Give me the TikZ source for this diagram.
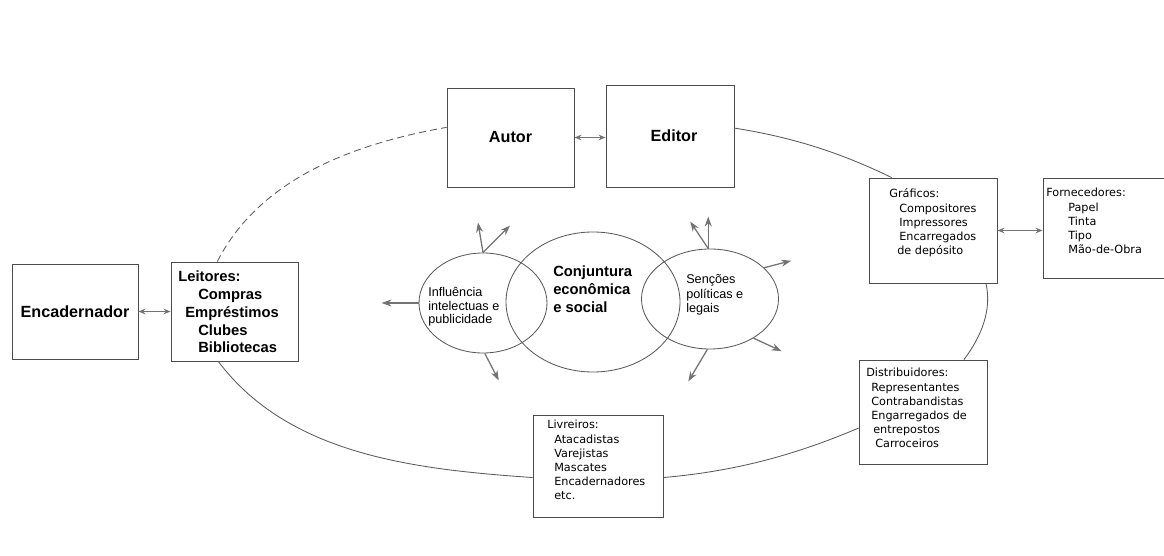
\documentclass[tikz,border=0pt]{standalone}
\usepackage{fontspec}
\setmainfont{Liberation Sans}
\newfontfamily\listfont{DejaVu Sans}
\usetikzlibrary{arrows.meta}
\usetikzlibrary{shapes.geometric}

\definecolor{boxgray}{gray}{0.3}
\definecolor{ringgray}{gray}{0.35}
\definecolor{arrgray}{gray}{0.45}
\newlength\pxd
\setlength\pxd{0.025cm}
\newcommand\hsk[1]{\hspace*{#1\pxd}}

\begin{document}
\begin{tikzpicture}[
     x=0.025cm, y=0.025cm,
     sz/.style 2 args={minimum width=#1*0.025cm,minimum height=#2*0.025cm},
     box/.style={draw=boxgray,fill=white,line width=0.6pt,inner sep=0pt},
     circ/.style={ellipse,draw=ringgray,line width=0.6pt,inner sep=0pt},
     bigtxt/.style={font={\bfseries\fontsize{11.5}{14}\selectfont}},
     lst/.style={anchor=base west,inner sep=0pt,font={\listfont\fontsize{8}{10}\selectfont}},
     ctxt/.style={anchor=base west,inner sep=0pt,font={\fontsize{9}{9.4}\selectfont}},
     ring/.style={draw=ringgray,line width=0.6pt},
     link/.style={{Stealth[length=5pt,width=4pt]}-{Stealth[length=5pt,width=4pt]},draw=arrgray,line width=0.9pt},
     ray/.style={-{Stealth[length=7pt,width=5pt]},draw=arrgray,line width=0.9pt}
   ]
   \path[use as bounding box] (0,0) rectangle (1164,-556);
   % Boxes.
   \node[box,sz={126}{95},bigtxt] (encad) at (75,-311.5) {Encadernador};
   \node[box,sz={127}{99}] (leit) at (234.5,-311.5) {};
   \node[box,sz={127}{99},bigtxt] (autor) at (510.5,-137.5) {Autor};
   \node[box,sz={128}{102},bigtxt] (editor) at (670,-136) {\hsk{8}Editor};
   \node[box,sz={128}{105}] (graf) at (933,-230.5) {};
   \node[box,sz={130}{100}] (forn) at (1108,-228) {};
   \node[box,sz={128}{104}] (distr) at (923,-412) {};
   \node[box,sz={130}{102}] (livr) at (598,-466) {};
   % Box texts.
   \node[anchor=base west,inner sep=0pt,font={\bfseries\fontsize{10.5}{12.6}\selectfont}] (leitTxt) at (178,-282)
     {\begin{tabular}[t]{@{}l@{}}Leitores:\\\hsk{20}Compras\\\hsk{7}Empréstimos\\\hsk{20}Clubes\\\hsk{20}Bibliotecas\end{tabular}};
   \node[lst] (grafTxt) at (889,-198)
     {\begin{tabular}[t]{@{}l@{}}Gráficos:\\\hsk{10}Compositores\\\hsk{10}Impressores\\\hsk{10}Encarregados\\\hsk{8}de depósito\end{tabular}};
   \node[lst] (fornTxt) at (1046,-197)
     {\begin{tabular}[t]{@{}l@{}}Fornecedores:\\\hsk{22}Papel\\\hsk{22}Tinta\\\hsk{22}Tipo\\\hsk{22}Mão-de-Obra\end{tabular}};
   \node[lst] (distrTxt) at (866,-377)
     {\begin{tabular}[t]{@{}l@{}}Distribuidores:\\\hsk{5}Representantes\\\hsk{5}Contrabandistas\\\hsk{5}Engarregados de\\\hsk{7}entrepostos\\\hsk{9}Carroceiros\end{tabular}};
   \node[lst] (livrTxt) at (547,-429)
     {\begin{tabular}[t]{@{}l@{}}Livreiros:\\\hsk{7}Atacadistas\\\hsk{7}Varejistas\\\hsk{7}Mascates\\\hsk{7}Encadernadores\\\hsk{7}etc.\end{tabular}};
   % Links between boxes.
   \draw[link] (encad.east) -- (leit.west);
   \draw[link] (autor.east) -- (autor.east -| editor.west);
   \draw[link] (graf.east) -- (graf.east -| forn.west);
   % Outer cycle.
   \draw[ring] (editor.7) to[out=-9,in=154,looseness=0.9] (graf.128);
   \draw[ring] (graf.315) to[out=-77,in=53,looseness=0.9] (distr.52);
   \draw[ring] (distr.194) to[out=203,in=5,looseness=0.9] (livr.350);
   \draw[ring] (livr.190) to[out=176,in=-53,looseness=0.9] (leit.252);
   \draw[ring,dash pattern=on 5pt off 3pt] (leit.109) to[out=63,in=190,looseness=0.9] (autor.171);
   % Centre.
   \node[circ,sz={128}{100}] (infl) at (483,-303) {};
   \node[circ,sz={174}{140}] (conj) at (593,-302) {};
   \node[circ,sz={137}{100}] (senc) at (710,-299) {};
   \node[ctxt] (inflTxt) at (428,-297)
     {\begin{tabular}[t]{@{}l@{}}Influência\\intelectuas e\\publicidade\end{tabular}};
   \node[ctxt,font={\bfseries\fontsize{10.5}{12.8}\selectfont}] (conjTxt) at (553,-277)
     {\begin{tabular}[t]{@{}l@{}}Conjuntura\\econômica\\e social\end{tabular}};
   \node[ctxt,font={\fontsize{9}{10}\selectfont}] (sencTxt) at (686,-284)
     {\begin{tabular}[t]{@{}l@{}}Senções\\políticas e\\legais\end{tabular}};
   % Rays.
   \draw[ray] (infl.90) -- ++(-5,30);
   \draw[ray] (infl.90) -- ++(27,27);
   \draw[ray] (infl.180) -- ++(-37,0);
   \draw[ray] (infl.272) -- ++(14,-27);
   \draw[ray] (senc.92) -- ++(0,32);
   \draw[ray] (senc.92) -- ++(-18,27);
   \draw[ray] (senc.30) -- ++(27,7);
   \draw[ray] (senc.318) -- ++(28,-13);
   \draw[ray] (senc.267) -- ++(-19,-32);
 \end{tikzpicture}
\end{document}
